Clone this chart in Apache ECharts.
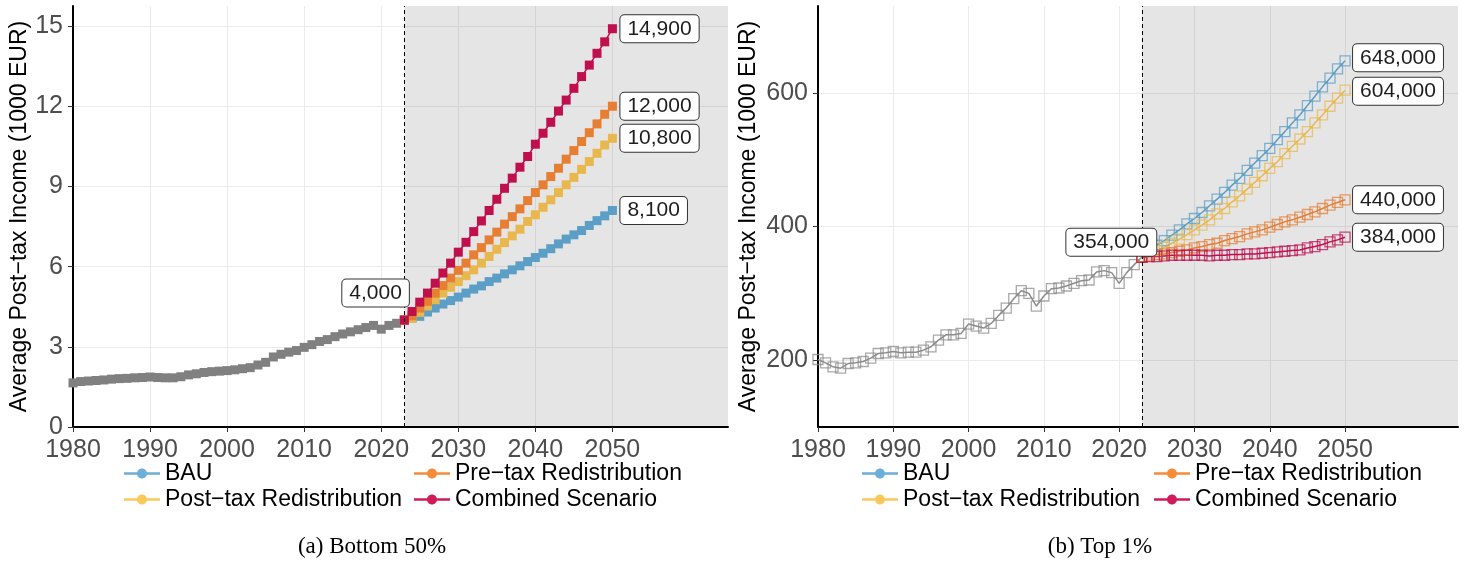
<!DOCTYPE html>
<html>
<head>
<meta charset="utf-8">
<script src="https://cdn.jsdelivr.net/npm/echarts@6/dist/echarts.min.js"></script>
<style>
  html, body { margin: 0; padding: 0; background: #fff; }
  #chart { width: 1468px; height: 565px; }
</style>
</head>
<body>
<div id="chart"></div>
<script>
// ---- data (average post-tax income, 1000 EUR) ----
const histYears = [];
for (let y = 1980; y <= 2023; y++) histYears.push(y);
const projYears = [];
for (let y = 2023; y <= 2050; y++) projYears.push(y);

const scenarioNames = ['BAU', 'Post\u2212tax Redistribution', 'Pre\u2212tax Redistribution', 'Combined Scenario'];
// legend colours and the (slightly deeper) colours of the marks inside the shaded projection band
const legendColors = ['#6BAED6', '#FCC85A', '#F68B3A', '#D01B5B'];
const markColors = ['#5B9EC6', '#E8B84F', '#E67E33', '#BF0F4D'];
// legend order (two columns, two rows)
const legendCols = [
  ['BAU', 'Post\u2212tax Redistribution'],
  ['Pre\u2212tax Redistribution', 'Combined Scenario']
];

// Bottom 50%
const b50Hist = [1.65, 1.70, 1.72, 1.74, 1.76, 1.79, 1.81, 1.82, 1.84, 1.85,
                 1.87, 1.85, 1.84, 1.84, 1.88, 1.95, 1.99, 2.04, 2.07, 2.09,
                 2.11, 2.14, 2.18, 2.22, 2.32, 2.42, 2.62, 2.72, 2.80, 2.86,
                 2.98, 3.08, 3.20, 3.27, 3.38, 3.48, 3.56, 3.64, 3.72, 3.80,
                 3.66, 3.80, 3.88, 4.00];
const b50Bau  = [4.00, 4.08, 4.14, 4.30, 4.45, 4.60, 4.73, 4.86, 5.01, 5.16, 5.28, 5.44, 5.57, 5.73,
                 5.88, 6.03, 6.19, 6.34, 6.50, 6.67, 6.85, 7.03, 7.19, 7.35, 7.54, 7.72, 7.90, 8.10];
const b50Post = [4.00, 4.07, 4.29, 4.53, 4.76, 5.01, 5.23, 5.44, 5.66, 5.88, 6.13, 6.38, 6.65, 6.90,
                 7.15, 7.40, 7.69, 7.94, 8.22, 8.50, 8.77, 9.06, 9.34, 9.64, 9.93, 10.24, 10.55, 10.80];
const b50Pre  = [4.00, 4.16, 4.45, 4.70, 5.01, 5.29, 5.57, 5.86, 6.13, 6.44, 6.71, 7.00, 7.29, 7.59,
                 7.87, 8.16, 8.47, 8.77, 9.06, 9.37, 9.68, 10.02, 10.34, 10.68, 11.01, 11.34, 11.70, 12.00];
const b50Comb = [4.00, 4.32, 4.67, 5.01, 5.38, 5.76, 6.13, 6.54, 6.91, 7.31, 7.71, 8.10, 8.52, 8.93,
                 9.31, 9.72, 10.12, 10.58, 10.99, 11.40, 11.82, 12.23, 12.67, 13.11, 13.54, 13.98, 14.41, 14.90];

// Top 1%
const t1Hist = [201, 196, 190, 188, 195, 196, 198, 203, 210, 211,
                213, 211, 212, 212, 215, 220, 230, 238, 238, 240,
                254, 251, 248, 255, 267, 278, 292, 304, 300, 281,
                296, 307, 308, 311, 315, 319, 320, 332, 334, 331,
                315, 331, 343, 354];
const t1Bau  = [354, 364, 372, 379, 387, 395, 404, 412, 421, 431, 441, 451, 462, 472,
                484, 495, 506, 517, 530, 542, 555, 567, 581, 595, 609, 622, 636, 648];
const t1Post = [354, 359, 364, 369, 375, 381, 388, 395, 402, 410, 419, 427, 437, 446,
                456, 466, 476, 487, 497, 509, 520, 531, 542, 555, 567, 580, 592, 604];
const t1Pre  = [354, 356, 358, 359, 361, 363, 365, 368, 370, 373, 375, 379, 382, 385,
                389, 392, 395, 399, 403, 407, 410, 414, 418, 422, 427, 432, 436, 440];
const t1Comb = [354, 355, 355, 356, 357, 357, 357, 357, 357, 356, 357, 357, 358, 358,
                359, 359, 360, 361, 362, 363, 364, 365, 368, 370, 373, 377, 380, 384];

// axis ticks
const xTickLabels = [1980, 1990, 2000, 2010, 2020, 2030, 2040, 2050];
const yTicksLeft = [0, 3, 6, 9, 12, 15];
const yTicksRight = [200, 400, 600];
const projectionStart = 2023;
const captions = ['(a) Bottom 50%', '(b) Top 1%'];

// ---- helpers ----
const FONT = 'Liberation Sans, Arial, sans-serif';
const pairs = (xs, ys) => xs.map((x, i) => [x, ys[i]]);
const fmtThousands = v => String(Math.round(v * 1000)).replace(/\B(?=(\d{3})+(?!\d))/g, ',');
const last = a => a[a.length - 1];

// legend glyph: short line with a dot in the middle
const LEGEND_ICON = 'path://M0,9.2L36,9.2L36,11.8L0,11.8Z' +
  'M23,10.5C23,13.26 20.76,15.5 18,15.5C15.24,15.5 13,13.26 13,10.5C13,7.74 15.24,5.5 18,5.5C20.76,5.5 23,7.74 23,10.5Z';

const panels = [
  { grid: { left: 73, top: 6, width: 655, height: 421 },
    yMin: 0, yMax: 15.75, yInterval: 1.5, yTicks: yTicksLeft, nameGap: 42,
    hist: b50Hist, scen: [b50Bau, b50Post, b50Pre, b50Comb], filled: true,
    startOffset: [14, -27], endOffsets: [0, 0, 0, 0],
    legendX: [124, 414], caption: captions[0], captionX: 372 },
  { grid: { left: 818, top: 6, width: 640, height: 421 },
    yMin: 100, yMax: 730, yInterval: 100, yTicks: yTicksRight, nameGap: 58,
    hist: t1Hist, scen: [t1Bau, t1Post, t1Pre, t1Comb], filled: false,
    startOffset: [24, -15], endOffsets: [-3, 1, 0, 0],
    legendX: [862, 1154], caption: captions[1], captionX: 1100 }
];

const option = {
  animation: false,
  backgroundColor: '#fff',
  textStyle: { fontFamily: FONT },
  grid: [], xAxis: [], yAxis: [], series: [], legend: [], graphic: []
};

panels.forEach((p, pi) => {
  option.grid.push(p.grid);
  option.xAxis.push({
    type: 'value', gridIndex: pi, min: 1980, max: 2065, interval: 5,
    axisLine: { show: true, onZero: false, lineStyle: { color: '#000', width: 2 } },
    axisTick: { show: true, customValues: xTickLabels, length: 5, lineStyle: { color: '#333', width: 1 } },
    axisLabel: { customValues: xTickLabels, formatter: v => String(v), fontSize: 25, color: '#4d4d4d',
                 margin: 11, fontFamily: FONT },
    splitLine: { show: true, lineStyle: { color: '#ebebeb', width: 1 } }
  });
  option.yAxis.push({
    type: 'value', gridIndex: pi, min: p.yMin, max: p.yMax, interval: p.yInterval,
    name: 'Average Post\u2212tax Income (1000 EUR)', nameLocation: 'middle', nameGap: p.nameGap,
    nameTextStyle: { fontSize: 23, color: '#000', fontFamily: FONT },
    axisLine: { show: true, onZero: false, lineStyle: { color: '#000', width: 2 } },
    axisTick: { show: true, customValues: p.yTicks, length: 5, lineStyle: { color: '#333', width: 1 } },
    axisLabel: { customValues: p.yTicks, formatter: v => String(v), fontSize: 25, color: '#4d4d4d',
                 margin: 10, fontFamily: FONT },
    splitLine: { show: true, lineStyle: { color: '#ebebeb', width: 1 } }
  });

  const markStyle = (color) => p.filled
    ? { symbol: 'rect', symbolSize: 9, itemStyle: { color: color } }
    : { symbol: 'rect', symbolSize: 10,
        itemStyle: { color: 'rgba(0,0,0,0)', borderColor: color, borderWidth: 1.3, opacity: 0.75 } };

  // projection period shading + start marker (drawn beneath the lines)
  option.series.push({
    type: 'line', name: 'projection', xAxisIndex: pi, yAxisIndex: pi, z: 1, silent: true, data: [],
    markArea: { silent: true, itemStyle: { color: 'rgba(0,0,0,0.1)' },
                data: [[{ xAxis: projectionStart }, { xAxis: 2065 }]] },
    markLine: { silent: true, symbol: ['none', 'none'], label: { show: false },
                lineStyle: { color: '#000', type: [4, 3], width: 1 },
                data: [{ xAxis: projectionStart }] }
  });

  // observed history
  const histColor = p.filled ? '#808080' : '#8c8c8c';
  option.series.push(Object.assign({
    type: 'line', name: 'Observed', xAxisIndex: pi, yAxisIndex: pi, z: 2, silent: true,
    data: pairs(histYears, p.hist),
    lineStyle: { color: histColor, width: 1.5 }
  }, markStyle(histColor)));

  // projection scenarios
  p.scen.forEach((vals, si) => {
    option.series.push(Object.assign({
      type: 'line', name: scenarioNames[si], xAxisIndex: pi, yAxisIndex: pi, z: 2, silent: true,
      data: pairs(projYears, vals),
      lineStyle: { color: markColors[si], width: 1.5 }
    }, markStyle(markColors[si])));
  });

  // value call-outs
  const boxLabel = {
    show: true, formatter: prm => fmtThousands(prm.value[1]),
    fontSize: 21, fontFamily: FONT, color: '#1e1e1e', opacity: 1, backgroundColor: '#ffffff',
    borderColor: '#333333', borderWidth: 1, borderRadius: 4, padding: [3, 7, 3, 7]
  };
  const labelData = [{
    value: [projectionStart, last(p.hist)],
    label: Object.assign({}, boxLabel, { position: 'left', distance: 5, offset: p.startOffset })
  }];
  p.scen.forEach((vals, si) => {
    labelData.push({
      value: [2050, last(vals)],
      label: Object.assign({}, boxLabel, { position: 'right', distance: 3.5, offset: [0, p.endOffsets[si]] })
    });
  });
  option.series.push({
    type: 'scatter', name: 'callouts', xAxisIndex: pi, yAxisIndex: pi, z: 5, silent: true,
    symbolSize: 9, itemStyle: { color: 'rgba(255,255,255,0)' }, data: labelData
  });

  // legend: two columns, two rows
  legendCols.forEach((col, ci) => {
    col.forEach((name, ri) => {
      option.legend.push({
        left: p.legendX[ci], top: 462 + ri * 26, padding: 0, selectedMode: false,
        itemWidth: 36, itemHeight: 10,
        textStyle: { fontSize: 23, color: '#000', fontFamily: FONT },
        data: [{ name: name, icon: LEGEND_ICON,
                 itemStyle: { color: legendColors[scenarioNames.indexOf(name)], borderWidth: 0, opacity: 1 } }]
      });
    });
  });

  // caption
  option.graphic.push({
    type: 'text', x: p.captionX, y: 547, silent: true,
    style: { text: p.caption, font: '23px "Liberation Serif", serif', fill: '#000',
             textAlign: 'center', textVerticalAlign: 'middle' }
  });
});

const chart = echarts.init(document.getElementById('chart'), null, { renderer: 'canvas' });
chart.setOption(option);
</script>
</body>
</html>
